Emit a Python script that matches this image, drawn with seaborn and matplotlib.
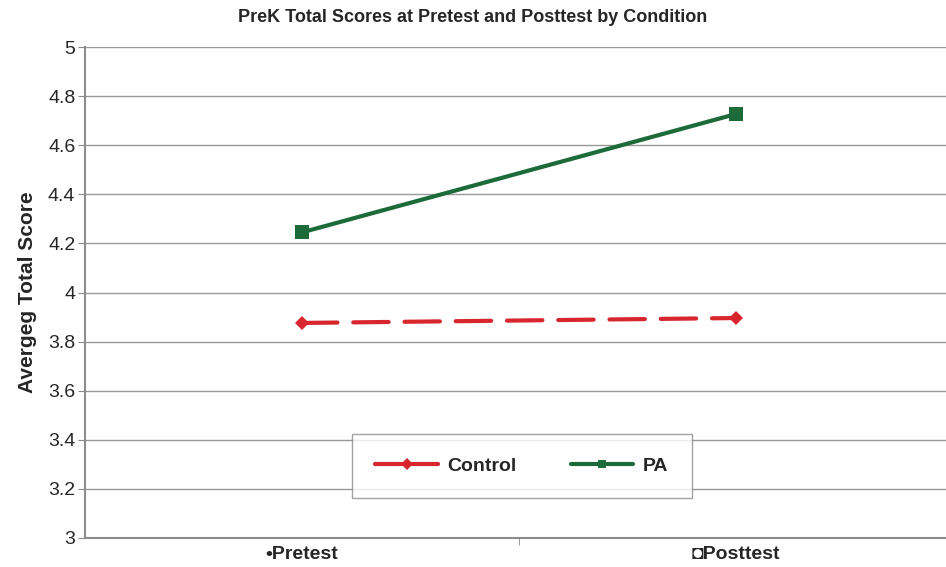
import pandas as pd
import numpy as np
import matplotlib
matplotlib.use("Agg")
import matplotlib.pyplot as plt
import seaborn as sns

# Data
time_points = ["Pretest", "Posttest"]
tick_labels = ["\u2022Pretest", "\u25d8Posttest"]
control_scores = [3.876, 3.896]
pa_scores = [4.245, 4.727]

df = pd.DataFrame({
    "time": list(range(len(time_points))) * 2,
    "score": control_scores + pa_scores,
    "condition": ["Control"] * 2 + ["PA"] * 2,
})

sns.set_style("white")
plt.rcParams["font.family"] = ["Liberation Sans", "DejaVu Sans"]

fig = plt.figure(figsize=(9.46, 5.67), dpi=100)
ax = fig.add_axes([85 / 946, 1 - 538 / 567, 868 / 946, 491 / 567])

palette = {"Control": "#d7262e", "PA": "#1d6b3b"}
sns.lineplot(data=df, x="time", y="score", hue="condition", style="condition",
             palette=palette, markers={"Control": "D", "PA": "s"},
             dashes={"Control": (8.5, 3.8), "PA": ""}, linewidth=3,
             markersize=9.5, markeredgewidth=0, ax=ax)

# smaller diamonds, rounded dashes like the original
for line in ax.lines:
    if line.get_marker() == "D":
        line.set_markersize(7.5)
    line.set_dash_capstyle("round")

ax.set_xlim(-0.5, 1.5)
ax.set_ylim(3, 5)
ax.set_yticks(np.arange(3, 5.01, 0.2))
ax.set_yticklabels(["3", "3.2", "3.4", "3.6", "3.8", "4", "4.2", "4.4", "4.6", "4.8", "5"],
                   fontsize=14)
ax.yaxis.grid(True, color="#999999", linewidth=1)
ax.set_axisbelow(True)

ax.set_xticks(range(len(time_points)))
ax.set_xticklabels(tick_labels, fontsize=14, fontweight="bold")
ax.tick_params(axis="x", length=0, pad=6)
ax.set_xticks([0.5], minor=True)
ax.tick_params(axis="x", which="minor", length=5, color="#8c8c8c", direction="out", bottom=True)
ax.tick_params(axis="y", length=5, color="#8c8c8c", direction="out", left=True, pad=2)

for side in ["top", "right"]:
    ax.spines[side].set_visible(False)
for side in ["left", "bottom"]:
    ax.spines[side].set_color("#8c8c8c")
    ax.spines[side].set_linewidth(1.5)

ax.set_xlabel("")
ax.set_ylabel("Avergeg Total Score", fontsize=15, fontweight="bold", labelpad=8)
fig.text(0.5, 1 - 18 / 567, "PreK Total Scores at Pretest and Posttest by Condition",
         ha="center", va="center", fontsize=13, fontweight="bold")

handles, labels = ax.get_legend_handles_labels()
for h in handles:
    h.set_linestyle("-")
    h.set_markersize(6)
leg = ax.legend(handles, labels, loc="center", bbox_to_anchor=(522 / 946, 1 - 466 / 567),
                bbox_transform=fig.transFigure, ncol=2, frameon=True, fancybox=False,
                prop={"size": 14, "weight": "bold"}, handlelength=3.2, columnspacing=2.8,
                borderpad=1.2, handletextpad=0.5)
leg.get_frame().set_edgecolor("#8c8c8c")
leg.get_frame().set_linewidth(1)

fig.savefig("out.png", dpi=100)
